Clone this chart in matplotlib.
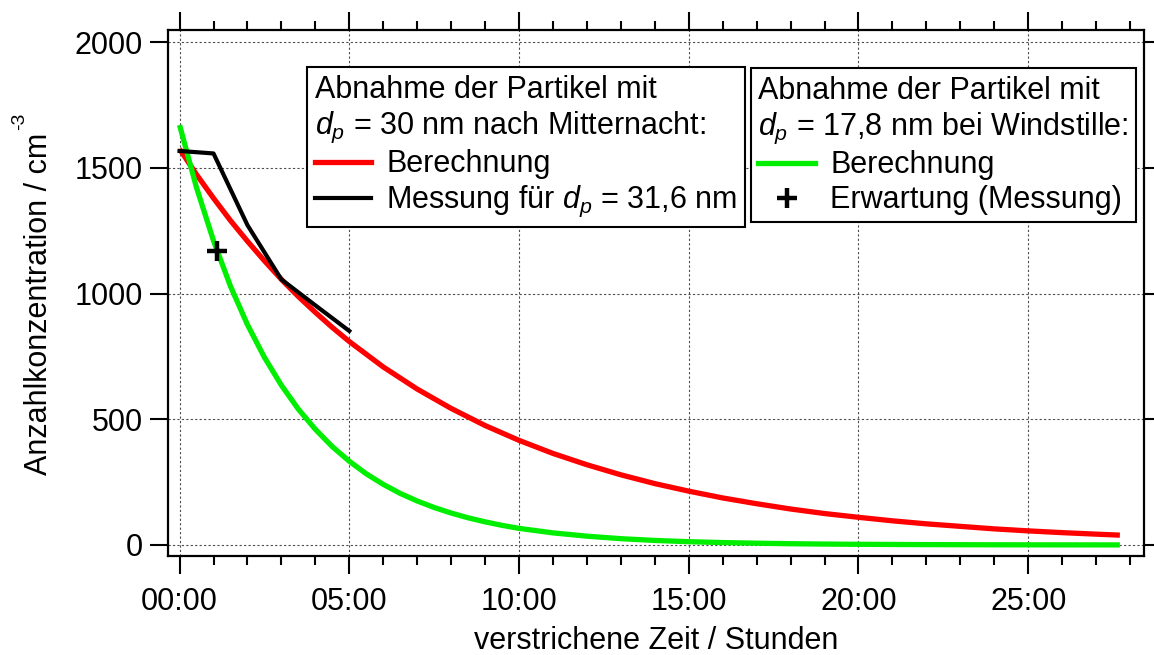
import matplotlib
matplotlib.use("Agg")
import matplotlib.pyplot as plt
from matplotlib.lines import Line2D
from matplotlib.ticker import MultipleLocator, FuncFormatter

plt.rcParams['font.family'] = ['Liberation Sans', 'DejaVu Sans']
plt.rcParams['mathtext.fontset'] = 'custom'
plt.rcParams['mathtext.rm'] = 'Liberation Sans'
plt.rcParams['mathtext.it'] = 'Liberation Sans:italic'
plt.rcParams['font.size'] = 22

# Berechnung d_p = 30 nm (rot)
t_red = [0, 0.5, 1, 1.5, 2, 2.5, 3, 3.5, 4, 4.5, 5, 6, 7, 8, 9, 10, 11, 12, 13, 14,
         15, 16, 17, 18, 19, 20, 21, 22, 23, 24, 25, 26, 27, 27.7]
n_red = [1575, 1473, 1379, 1290, 1208, 1130, 1056, 988, 925, 865, 809, 708, 620, 543,
         475, 416, 364, 319, 279, 244, 214, 187, 164, 143, 125, 110, 96, 84, 74, 64,
         56, 49, 43, 39]

# Berechnung d_p = 17,8 nm (gruen)
t_green = [0, 0.5, 1, 1.5, 2, 2.5, 3, 3.5, 4, 4.5, 5, 5.5, 6, 6.5, 7, 7.5, 8, 8.5, 9,
           9.5, 10, 11, 12, 13, 14, 15, 16, 17, 18, 19, 20, 22, 24, 26, 27.7]
n_green = [1670, 1421, 1210, 1029, 876, 746, 635, 540, 460, 391, 333, 283, 241, 205,
           175, 149, 127, 108, 92, 78, 66, 48, 35, 25, 18, 13, 9.5, 7, 5, 3.6, 2.6,
           1.4, 0.7, 0.4, 0.2]

# Messung d_p = 31,6 nm (schwarz)
t_meas = [0, 1, 2, 3, 4, 5]
n_meas = [1567, 1557, 1272, 1056, 953, 851]

# Erwartung (Messung)
t_exp = [1.1]
n_exp = [1170]

fig = plt.figure(figsize=(11.54, 6.55), dpi=100)
ax = fig.add_axes([0.1456, 0.1511, 0.8457, 0.8031])

ax.plot(t_red, n_red, color='#ff0000', lw=3.8, solid_capstyle='butt', zorder=3)
ax.plot(t_green, n_green, color='#00ee00', lw=3.8, solid_capstyle='butt', zorder=3)
ax.plot(t_meas, n_meas, color='black', lw=3.0, zorder=4)
ax.plot(t_exp, n_exp, linestyle='none', marker='+', color='black', ms=14, mew=3.2, zorder=5)

ax.set_xlim(-0.34, 28.41)
ax.set_ylim(-44, 2048)

ax.xaxis.set_major_locator(MultipleLocator(5))
ax.xaxis.set_minor_locator(MultipleLocator(1))
ax.yaxis.set_major_locator(MultipleLocator(500))
ax.xaxis.set_major_formatter(FuncFormatter(lambda v, p: f"{int(round(v)):02d}:00"))

ax.tick_params(axis='both', which='major', direction='out', length=13, width=1.5, pad=5)
ax.tick_params(axis='x', which='major', pad=9.5)
ax.tick_params(axis='x', which='minor', direction='out', length=6.5, width=1.5)
ax.tick_params(axis='x', which='both', top=True)
ax.tick_params(axis='y', which='both', right=True)

for s in ax.spines.values():
    s.set_linewidth(1.6)

ax.grid(True, which='major', color='0.3', linestyle=(0, (2, 2)), lw=0.8)
ax.set_axisbelow(True)

ax.set_xlabel('verstrichene Zeit / Stunden', labelpad=6)
ax.set_ylabel('Anzahlkonzentration / cm')
ax.yaxis.set_label_coords(-0.117, 0.479)
# hochgestellter Exponent wie im Original deutlich abgesetzt
fig.text(20 / 1154, 1 - 121 / 655, '-3', rotation=90, fontsize=14,
         ha='center', va='center')

# Legenden
h1 = [Line2D([], [], color='#ff0000', lw=3.8), Line2D([], [], color='black', lw=3.0)]
leg1 = ax.legend(h1, ['Berechnung', 'Messung für $d_p$ = 31,6 nm'],
                 title='Abnahme der Partikel mit\n$d_p$ = 30 nm nach Mitternacht:',
                 title_fontsize=22, alignment='left', loc='upper left',
                 bbox_to_anchor=(0.1424, 0.9297), borderaxespad=0, fancybox=False,
                 framealpha=1, edgecolor='black', handlelength=1.85, handletextpad=0.5,
                 borderpad=0.25, labelspacing=0.15, handleheight=0.6)
leg1.get_frame().set_linewidth(1.5)
ax.add_artist(leg1)

h2 = [Line2D([], [], color='#00ee00', lw=3.8),
      Line2D([], [], linestyle='none', marker='+', color='black', ms=14, mew=3.2)]
leg2 = ax.legend(h2, ['Berechnung', 'Erwartung (Messung)'],
                 title='Abnahme der Partikel mit\n$d_p$ = 17,8 nm bei Windstille:',
                 title_fontsize=22, alignment='left', loc='upper left',
                 bbox_to_anchor=(0.597, 0.9278), borderaxespad=0, fancybox=False,
                 framealpha=1, edgecolor='black', handlelength=1.85, handletextpad=0.5,
                 borderpad=0.25, labelspacing=0.15, handleheight=0.6)
leg2.get_frame().set_linewidth(1.5)

fig.savefig('out.png', dpi=100)
